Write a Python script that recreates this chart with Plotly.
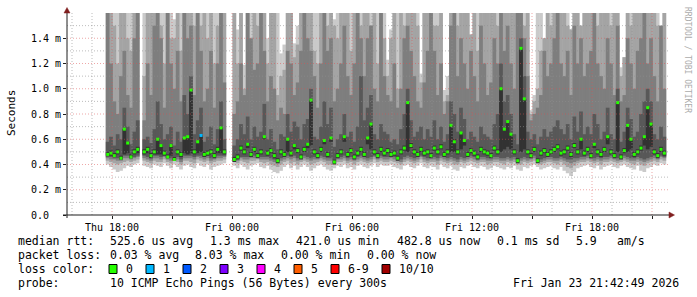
import plotly.graph_objects as go
import pandas as pd

N = None
# 10-minute steps starting Thu 2026-01-22 17:42; values in hundredths of a millisecond
start_time = "2026-01-22 17:42"
step = "10min"

median = [48,49,47,50,45,68,57,46,50,52,N,50,
          52,47,50,60,55,49,46,55,44,50,48,61,
          62,99,50,58,63,48,49,50,47,52,69,50,
          N,N,44,46,53,50,56,48,52,47,50,62,
          49,51,47,43,50,48,60,49,55,51,46,52,
          56,91,50,47,52,59,48,61,42,47,50,62,
          48,51,46,49,52,48,61,72,50,47,52,49,
          51,48,49,45,50,53,89,55,50,48,52,49,
          50,47,53,50,54,48,50,71,58,50,65,59,
          48,51,49,46,52,50,49,47,53,50,100,68,
          74,64,50,43,132,92,50,47,52,43,49,51,
          48,50,52,54,49,50,53,48,55,50,60,49,
          52,47,56,50,48,52,62,50,47,89,46,51,
          71,60,48,50,53,62,85,72,50,47,52,49]

lo1 = [40,38,36,34,35,37,39,38,40,41,N,39,
       38,37,40,39,38,41,39,37,40,38,36,39,
       40,38,37,41,39,38,40,36,38,39,40,41,
       N,N,39,37,40,38,36,39,40,41,38,37,
       39,36,34,33,35,38,40,37,39,36,38,40,
       38,35,37,39,40,38,36,35,37,39,38,40,
       37,38,36,39,40,38,37,39,41,38,40,39,
       39,40,38,37,36,39,40,38,37,39,41,38,
       37,39,38,36,40,38,37,39,36,35,38,37,
       39,40,38,37,39,38,36,37,39,38,37,36,
       38,37,39,36,35,38,37,39,40,38,36,37,
       38,39,37,36,38,35,33,31,34,37,38,39,
       40,38,37,39,36,38,39,40,38,37,39,40,
       38,37,36,39,35,34,37,38,40,39,41,40]
lo2 = [43,42,41,40,41,42,43,42,43,44,N,43,
       42,41,43,42,42,44,42,41,43,42,40,43,
       43,42,41,44,43,42,43,41,42,43,43,44,
       N,N,42,41,43,42,41,43,43,44,42,41,
       42,40,39,38,40,42,43,41,42,40,42,43,
       42,40,41,42,43,42,40,40,41,42,42,43,
       41,42,40,42,43,42,41,42,44,42,43,42,
       42,43,42,41,40,42,43,42,41,42,44,42,
       41,42,42,40,43,42,41,42,40,40,42,41,
       42,43,42,41,42,42,40,41,42,42,41,40,
       42,41,42,40,40,42,41,42,43,41,40,41,
       42,42,41,40,42,40,38,37,39,41,42,42,
       43,42,41,42,40,42,42,43,42,41,42,43,
       42,41,40,42,40,39,41,42,43,42,44,43]
lo3 = [45,44,44,43,43,45,45,44,45,46,N,45,
       44,43,45,45,44,46,44,43,45,44,42,45,
       45,45,44,46,45,44,45,43,44,45,45,46,
       N,N,43,43,45,44,44,45,45,46,44,44,
       44,43,42,41,43,44,45,44,45,43,44,45,
       44,43,44,44,45,44,43,43,43,44,44,45,
       43,44,43,44,45,44,43,44,46,44,45,44,
       44,45,44,43,42,44,45,44,43,44,46,44,
       43,44,44,43,45,44,43,44,43,42,44,43,
       44,45,44,43,44,44,43,43,44,44,43,43,
       44,43,44,42,43,44,43,44,45,43,42,43,
       44,44,43,43,44,43,42,41,42,43,44,44,
       45,44,43,44,43,44,44,45,44,43,44,45,
       44,43,43,44,43,42,43,44,45,44,46,45]
lo4 = [46,46,45,45,44,47,47,45,46,47,N,47,
       46,45,47,47,46,47,45,45,46,46,44,47,
       47,47,46,47,47,46,47,45,46,47,47,47,
       N,N,44,45,46,46,46,46,47,47,46,46,
       46,45,44,43,45,46,47,46,47,45,45,47,
       46,45,46,46,47,46,45,45,44,45,46,47,
       45,46,45,46,47,46,45,46,47,46,47,46,
       46,47,46,45,44,46,47,46,45,46,47,46,
       45,46,46,45,47,46,45,46,45,44,46,45,
       46,47,46,45,46,46,45,45,46,46,45,45,
       46,45,46,44,45,46,45,46,47,45,44,45,
       46,46,45,45,46,45,44,44,45,45,46,46,
       47,46,45,46,45,46,46,47,46,45,46,47,
       46,45,45,46,45,44,45,46,47,46,47,46]
lo5 = [47,47,46,48,44,48,49,45,48,49,N,48,
       49,45,48,48,48,47,45,47,43,48,46,49,
       48,49,48,49,50,46,47,48,45,49,49,48,
       N,N,42,44,51,48,53,46,50,45,48,60,
       47,49,45,41,48,46,50,47,52,49,44,50,
       53,55,48,45,50,56,46,58,40,45,48,58,
       46,49,44,47,50,46,56,52,48,45,50,47,
       49,46,47,43,48,51,50,53,48,46,50,47,
       48,45,51,48,52,46,48,50,50,48,52,55,
       46,49,47,44,50,48,47,45,51,48,50,52,
       54,52,48,41,50,52,48,45,50,41,47,49,
       46,48,50,52,47,48,51,46,53,48,52,47,
       50,45,53,48,46,50,56,48,45,50,44,49,
       50,52,46,48,51,55,52,54,48,45,50,47]
hi5 = [50,51,49,52,47,68,58,48,52,54,N,52,
       54,49,52,60,56,51,48,56,46,52,50,61,
       62,99,52,58,63,50,51,52,49,54,69,52,
       N,N,46,48,55,52,57,50,54,49,52,62,
       51,53,49,45,52,50,60,51,56,53,48,54,
       57,91,52,49,54,59,50,61,44,49,52,62,
       50,53,48,51,54,50,61,72,52,49,54,51,
       53,50,51,47,52,55,89,57,52,50,54,51,
       52,49,55,52,56,50,52,71,60,52,65,59,
       50,53,51,48,54,52,51,49,55,52,100,68,
       74,64,52,45,132,92,52,49,54,45,51,53,
       50,52,54,56,51,52,55,50,57,52,60,51,
       54,49,56,52,50,54,62,52,49,89,48,53,
       71,60,50,52,55,62,85,72,52,49,54,51]
hi4 = [58,62,55,64,60,85,70,56,66,75,N,60,
       62,57,68,90,72,60,64,70,55,66,58,95,
       80,110,64,75,85,58,62,70,56,68,90,60,
       N,N,55,60,72,64,78,60,70,62,66,88,
       60,68,58,52,64,62,80,66,74,70,60,72,
       76,100,62,60,70,90,72,85,54,60,64,80,
       62,66,58,70,110,75,85,95,64,60,72,66,
       64,58,60,56,68,80,100,75,62,66,70,60,
       68,62,75,60,70,58,64,90,80,66,85,76,
       60,66,62,58,70,64,62,60,72,80,120,90,
       95,80,64,56,140,110,66,60,64,56,62,68,
       62,66,70,75,68,64,72,60,78,66,82,64,
       70,64,80,72,60,66,85,64,60,100,58,66,
       85,76,62,66,80,90,100,90,64,60,70,62]
hi3 = [200,120,90,80,110,130,95,85,140,230,N,75,
       120,95,150,230,140,85,210,120,100,130,90,160,
       140,150,95,200,130,90,100,130,85,120,160,105,
       N,N,80,90,120,95,230,140,115,120,240,130,
       90,110,100,75,85,80,130,120,95,105,130,200,
       140,130,110,85,120,210,130,140,90,100,120,150,
       110,95,120,230,140,110,140,150,100,90,200,110,
       95,90,120,85,100,140,150,130,110,90,85,105,
       130,220,130,95,120,80,90,150,240,110,140,120,
       100,130,110,90,150,120,95,105,140,120,240,130,
       150,120,100,220,240,140,110,75,80,85,95,130,
       110,120,140,230,120,110,130,95,150,120,140,110,
       120,130,240,120,110,100,140,120,95,150,90,95,
       140,120,100,130,140,250,120,140,110,90,150,100]
hi2 = [230,160,150,120,260,200,140,130,250,170,N,110,
       250,180,160,270,150,120,260,140,140,240,130,280,
       160,230,150,270,150,200,140,240,120,150,250,180,
       N,N,160,120,200,100,260,130,180,150,270,160,
       120,160,200,95,110,115,190,220,125,135,160,250,
       170,250,130,120,160,250,150,240,150,140,210,160,
       200,130,160,270,150,180,220,150,160,120,250,140,
       110,140,220,100,180,150,260,160,200,150,105,190,
       240,260,150,150,200,90,95,160,270,150,230,200,
       180,143,200,130,250,160,160,190,240,150,270,160,
       250,160,180,260,270,150,200,80,90,100,130,140,
       200,150,170,260,160,240,150,147,230,200,150,190,
       160,260,152,150,200,160,250,150,180,240,110,125,
       250,150,200,160,270,280,160,230,200,150,140,180]
hi1 = [300,280,260,270,320,350,300,290,310,330,N,280,
       290,310,330,300,280,260,270,250,155,300,320,330,
       300,320,270,290,300,310,250,280,260,290,310,270,
       N,N,250,147,280,119,300,290,260,280,300,310,
       140,290,300,270,128,135,310,280,136,150,300,290,
       300,310,290,260,280,300,310,290,155,300,270,320,
       290,280,300,310,320,300,290,310,270,250,280,300,
       123,147,300,260,280,300,310,290,270,300,112,290,
       300,290,310,270,290,99,110,300,310,290,300,280,
       290,143,300,270,310,300,280,290,300,320,310,300,
       300,290,280,310,320,300,290,83,95,280,300,140,
       290,300,310,300,290,280,300,147,310,290,150,280,
       300,290,152,310,290,280,300,310,290,300,117,125,
       300,290,280,310,320,300,310,290,300,280,150,290]

loss_events = {28: 1}   # step index -> lost pings (all other steps 0)

y_ticks = [0.0, 0.2, 0.4, 0.6, 0.8, 1.0, 1.2, 1.4]
y_ticktext = ["0.0\u00a0\u00a0", "0.2 m", "0.4 m", "0.6 m", "0.8 m", "1.0 m", "1.2 m", "1.4 m"]
x_ticks = ["2026-01-22 18:00", "2026-01-22 21:00", "2026-01-23 00:00", "2026-01-23 03:00",
           "2026-01-23 06:00", "2026-01-23 09:00", "2026-01-23 12:00", "2026-01-23 15:00",
           "2026-01-23 18:00", "2026-01-23 21:00"]
x_ticktext = ["Thu 18:00", "", "Fri 00:00", "", "Fri 06:00", "", "Fri 12:00", "", "Fri 18:00", ""]

loss_legend = [("0", "#26ff00"), ("1", "#00b8ff"), ("2", "#0059ff"), ("3", "#7e00ff"),
               ("4", "#ff00ff"), ("5", "#ff5e00"), ("6-9", "#ff0000"), ("10/10", "#a10000")]
loss_color_of = {0: "#26ff00", 1: "#00b8ff", 2: "#0059ff", 3: "#7e00ff",
                 4: "#ff00ff", 5: "#ff5e00", 6: "#ff0000", 10: "#a10000"}

# ---------------------------------------------------------------
times = pd.date_range(start_time, periods=len(median), freq=step) + pd.Timedelta(minutes=5)
bar_w = 10 * 60 * 1000 * 1.12
S = 0.01  # hundredths of ms -> ms

fig = go.Figure()
shades = ["#cacaca", "#a4a4a4", "#7e7e7e", "#585858", "#323232"]
for (lo, hi), col in zip([(lo1, hi1), (lo2, hi2), (lo3, hi3), (lo4, hi4), (lo5, hi5)], shades):
    base = [None if a is None else a * S for a in lo]
    hgt = [None if a is None else (b - a) * S for a, b in zip(lo, hi)]
    fig.add_trace(go.Bar(x=times, y=hgt, base=base, width=bar_w,
                         marker=dict(color=col, line=dict(width=0)),
                         hoverinfo="skip"))

mcol = [loss_color_of[loss_events.get(k, 0)] for k in range(len(median))]
fig.add_trace(go.Scatter(x=times, y=[None if m is None else m * S for m in median],
                         mode="markers",
                         marker=dict(symbol="square", size=3, color=mcol,
                                     line=dict(width=0)),
                         hoverinfo="skip"))

W, H = 697, 297
L, R, T, B = 67, 29, 13, 82
PW, PH = W - L - R, H - T - B
def px(x):
    return (x - L) / PW
def py(y):
    return (H - B - y) / PH

shapes = []
GRID = "rgba(143,143,143,0.6)"
MGRID = "rgba(222,79,79,0.5)"
DASH = "1px,2px"
# vertical grid every hour
for t in pd.date_range("2026-01-22 16:00", "2026-01-23 21:00", freq="1h"):
    c = MGRID if t.hour % 3 == 0 else GRID
    shapes.append(dict(type="line", xref="x", yref="paper", x0=t, x1=t, y0=0, y1=1,
                       line=dict(color=c, width=1, dash=DASH), layer="above"))
for i in range(1, 16):
    v = i / 10
    c = MGRID if i % 2 == 0 else GRID
    shapes.append(dict(type="line", xref="paper", yref="y", x0=0, x1=1, y0=v, y1=v,
                       line=dict(color=c, width=1, dash=DASH), layer="above"))
AX = "#1f1f1f"
ARROW = "#801f1f"
shapes.append(dict(type="line", xref="paper", yref="paper", x0=px(63), x1=px(670),
                   y0=0, y1=0, line=dict(color=AX, width=1), layer="above"))
shapes.append(dict(type="line", xref="paper", yref="paper", x0=0, x1=0,
                   y0=py(218), y1=py(12), line=dict(color=AX, width=1), layer="above"))
shapes.append(dict(type="path", xref="paper", yref="paper",
                   path=f"M {px(64)} {py(13)} L {px(70)} {py(13)} L {px(67)} {py(7.5)} Z",
                   fillcolor=ARROW, line=dict(color=ARROW, width=0.5), layer="above"))
shapes.append(dict(type="path", xref="paper", yref="paper",
                   path=f"M {px(669)} {py(212)} L {px(669)} {py(218)} L {px(674.5)} {py(215)} Z",
                   fillcolor=ARROW, line=dict(color=ARROW, width=0.5), layer="above"))

annotations = []
MONO = "DejaVu Sans Mono"
def txt(x, y, s, anchor="left", size=11.5, color="black", angle=0):
    annotations.append(dict(x=px(x), y=py(y), xref="paper", yref="paper", text=s,
                            showarrow=False, xanchor=anchor, yanchor="middle",
                            textangle=angle,
                            font=dict(family=MONO, size=size, color=color)))

txt(16, 241, "median rtt:")
for x, s in [(108, "525.6 us avg"), (208, "1.3 ms max"), (294, "421.0 us min"),
             (395, "482.8 us now"), (495, "0.1 ms sd"), (574, "5.9"), (615, "am/s")]:
    txt(x, 241, s)
txt(16, 255, "packet loss:")
for x, s in [(108, "0.03 % avg"), (193, "8.03 % max"), (279, "0.00 % min"), (365, "0.00 % now")]:
    txt(x, 255, s)
txt(16, 269, "loss color:")
box_x = [109, 146, 183, 220, 257, 294, 331, 382]
for bx, (lab, col) in zip(box_x, loss_legend):
    shapes.append(dict(type="rect", xref="paper", yref="paper",
                       x0=px(bx), x1=px(bx + 8), y0=py(273.5), y1=py(264.5),
                       fillcolor=col, line=dict(color="black", width=1)))
    txt(bx + 15, 269, lab)
txt(16, 283, "probe:")
txt(108, 283, "10 ICMP Echo Pings (56 Bytes) every 300s")
txt(681, 283, "Fri Jan 23 21:42:49 2026", anchor="right")
annotations.append(dict(x=px(11), y=py(113), xref="paper", yref="paper", text="Seconds",
                        showarrow=False, textangle=-90, xanchor="center", yanchor="middle",
                        font=dict(family=MONO, size=11, color="black")))
annotations.append(dict(x=px(688), y=py(60), xref="paper", yref="paper",
                        text="RRDTOOL / TOBI OETIKER", showarrow=False, textangle=90,
                        xanchor="center", yanchor="middle",
                        font=dict(family=MONO, size=8, color="#ababab")))

fig.update_layout(
    width=W, height=H, margin=dict(l=L, r=R, t=T, b=B, pad=0),
    paper_bgcolor="white", plot_bgcolor="white", showlegend=False,
    barmode="overlay",
    font=dict(family=MONO, size=10, color="black"),
    xaxis=dict(type="date", range=["2026-01-22 15:45", "2026-01-23 21:48"],
               tickmode="array", tickvals=x_ticks, ticktext=x_ticktext,
               showgrid=False, zeroline=False, showline=False,
               ticks="outside", ticklen=3, tickcolor=AX,
               tickfont=dict(family=MONO, size=10, color="black")),
    yaxis=dict(range=[0, 1.6], tickmode="array", tickvals=y_ticks, ticktext=y_ticktext,
               showgrid=False, zeroline=False, showline=False,
               ticks="outside", ticklen=3, tickcolor=AX,
               tickfont=dict(family=MONO, size=10, color="black")),
    shapes=shapes, annotations=annotations,
)
fig.write_html("out.html")
